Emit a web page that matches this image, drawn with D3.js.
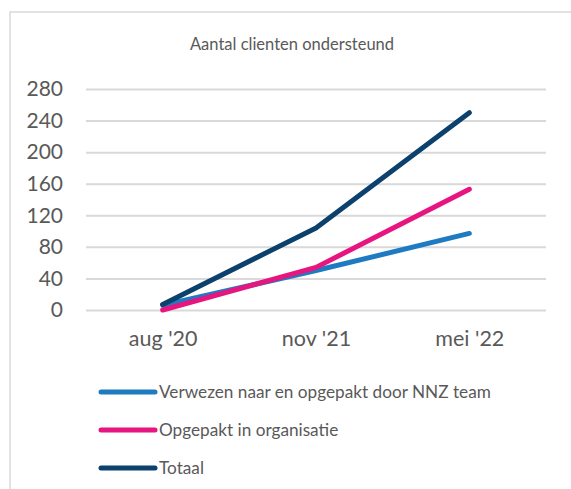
<!DOCTYPE html>
<html><head><meta charset="utf-8">
<script src="https://cdn.jsdelivr.net/npm/d3@7"></script>
<style>body{margin:0;background:#fff}svg{display:block}text{font-family:Lato,"Open Sans",sans-serif;fill:#595959}</style>
</head><body><svg id="c" width="571" height="489"></svg>
<script>
const categories = ["aug '20", "nov '21", "mei '22"];
const seriesNames = ["Verwezen naar en opgepakt door NNZ team", "Opgepakt in organisatie", "Totaal"];
const verwezen = [6, 50, 97];
const opgepakt = [0, 54, 153];
const totaal = [7, 104, 250];
const yTicks = [0, 40, 80, 120, 160, 200, 240, 280];
const colors = ["#1f7bc1", "#e6157f", "#0b416c"];
const title = "Aantal clienten ondersteund";

const svg = d3.select("#c");
svg.append("rect").attr("x",10).attr("y",12).attr("width",580).attr("height",500)
  .attr("fill","#fff").attr("stroke","#d9d9d9").attr("stroke-width",1.5);

svg.append("text").attr("x",292).attr("y",50).attr("text-anchor","middle")
  .style("font-size","16.5px").text(title);

const x = d3.scalePoint().domain(categories).range([86,546]).padding(0.5);
const y = d3.scaleLinear().domain([0,280]).range([310,89]);

const yAxis = svg.append("g").attr("transform","translate(86,0)")
  .call(d3.axisLeft(y).tickValues(yTicks).tickSize(-460).tickPadding(23));
yAxis.select(".domain").remove();
yAxis.selectAll("line").attr("stroke","#d9d9d9").attr("stroke-width",2);
yAxis.selectAll("text").style("font-size","21px").attr("fill","#595959").style("font-family","Lato");

const xAxis = svg.append("g").attr("transform","translate(0,310)")
  .call(d3.axisBottom(x).tickSize(0).tickPadding(21));
xAxis.select(".domain").remove();
xAxis.selectAll("text").style("font-size","21.5px").attr("fill","#595959").style("font-family","Lato");

const series = [verwezen, opgepakt, totaal];
const line = d3.line().x((d,i)=>x(categories[i])).y(d=>y(d));
series.forEach((s,k)=>{
  svg.append("path").datum(s).attr("d",line).attr("fill","none")
    .attr("stroke",colors[k]).attr("stroke-width",5)
    .attr("stroke-linecap","round").attr("stroke-linejoin","round");
});

const legY = [392, 430, 468];
seriesNames.forEach((n,k)=>{
  svg.append("line").attr("x1",101).attr("x2",155).attr("y1",legY[k]).attr("y2",legY[k])
    .attr("stroke",colors[k]).attr("stroke-width",5).attr("stroke-linecap","round");
  svg.append("text").attr("x",159).attr("y",legY[k]).attr("dy","0.35em")
    .style("font-size","17.2px").text(n);
});
</script></body></html>
